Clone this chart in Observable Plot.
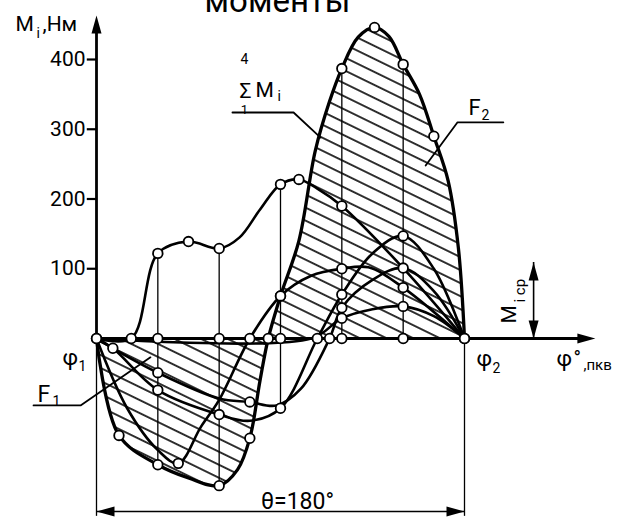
<!DOCTYPE html>
<html><head><meta charset="utf-8">
<script src="https://cdn.jsdelivr.net/npm/d3@7"></script>
<script src="https://cdn.jsdelivr.net/npm/@observablehq/plot@0.6"></script>
<style>body{margin:0;background:#fff}</style>
</head><body><div id="chart"></div>
<script>
const FONT = 'Roboto,"Liberation Sans","DejaVu Sans",sans-serif';

// angle grid (degrees of crank rotation) and torque ticks (N·m)
const phiGrid = [0, 30, 60, 90, 120, 150, 180];
const yTicks = [100, 200, 300, 400];
const yTickLabels = ["100", "200", "300", "400"];

// curves: [phi, M, circle?]
const sumCurve = [[0,0,1],[11,-139,1],[30,-181,1],[45,-200,0],[60,-211,1],[69,-188,0],[75,-143,1],[80,-60,0],[84,0,1],[90,61,1],[99,140,0],[107,269,0],[114,340,0],[120,387,1],[128,432,0],[136,446,1],[143,433,0],[150,393,1],[158,350,0],[165,290,1],[172,226,0],[177,130,0],[180,0,1]];
const curve1 = [[0,0,0],[15,-100,0],[30,-160,0],[40,-179,1],[51,-127,0],[60,-88,0],[75,0,1],[90,61,1],[105,90,0],[120,100,1],[133,102,0],[150,73,1],[180,0,0]];
const curve2 = [[0,0,0],[8,-14,1],[30,-49,1],[60,-86,0],[75,-91,1],[88,-96,0],[100,-72,0],[114,0,1],[120,44,1],[135,84,0],[150,101,1],[165,68,0],[180,0,0]];
const curve3 = [[0,0,0],[8,-14,0],[30,-74,1],[60,-109,1],[75,-118,0],[90,-100,1],[108,0,1],[120,63,1],[135,122,0],[150,147,1],[165,100,0],[180,0,0]];
const curve4 = [[0,0,0],[105,0,0],[120,29,1],[135,42,0],[150,46,1],[165,32,0],[180,0,0]];
const upperCurve = [[0,0,0],[17,0,1],[30,122,1],[45,139,1],[60,129,1],[70,145,0],[80,185,0],[90,221,1],[99,228,1],[108,215,0],[120,190,1],[150,101,0],[180,0,0]];

const meanTorque = 109;      // M_i ср
const theta = 180;           // θ

const toRows = (arr, id) => arr.map(([phi, M, dot]) => ({phi, M, dot, id}));
const curves = [toRows(sumCurve,"sum"), toRows(curve1,"1"), toRows(curve2,"2"), toRows(curve3,"3"), toRows(curve4,"4"), toRows(upperCurve,"u")];
const allRows = curves.flat();
const dotRows = allRows.filter(d => d.dot).concat(phiGrid.map(phi => ({phi, M: 0})));
const gridRows = phiGrid.slice(1, -1).map(g => {
  const v = dotRows.filter(d => Math.abs(d.phi - g) <= 1).map(d => d.M);
  return {phi: g, lo: d3.min(v), hi: d3.max(v)};
});

// annotations (leaders in data units)
const leaderF1 = [[-30.8,-96],[-7.8,-96],[26.4,-27]];
const leaderSum = [[66.5,324],[96.4,324],[109.6,288]];
const leaderF2 = [[199,310],[176.6,310],[161,248]];
const dimM = -248, extM = -255, axisTop = 463, axisRight = 244, meanPhi = 213.8;

const arrowHead = {draw(ctx) { ctx.moveTo(0, 0); ctx.lineTo(-5, 18); ctx.lineTo(5, 18); ctx.closePath(); }};

// text labels: x, y = baseline position in pixels
const labels = [
  {t:"моменты", x:277, y:8, s:33, a:"middle"},
  {t:"M", x:15, y:28, s:21}, {t:"i", x:36, y:36, s:14}, {t:",Нм", x:42, y:28, s:21},
  {t:"4", x:244, y:62, s:14, a:"middle"}, {t:"Σ", x:245, y:95, s:21, a:"middle"},
  {t:"M", x:255, y:94, s:21}, {t:"i", x:277, y:99, s:14}, {t:"1", x:244, y:112, s:13, a:"middle"},
  {t:"F", x:468, y:112, s:22}, {t:"2", x:481, y:118, s:14},
  {t:"F", x:37, y:399, s:23}, {t:"1", x:52, y:404, s:14},
  {t:"φ", x:62, y:362, s:22}, {t:"1", x:78, y:369, s:14},
  {t:"φ", x:476, y:363, s:22}, {t:"2", x:492, y:371, s:14},
  {t:"φ", x:556, y:363, s:22}, {t:"°", x:573, y:362, s:20}, {t:",пкв", x:583, y:368, s:15},
  {t:"θ=180°", x:297, y:506, s:23, a:"middle"},
  {t:"M", x:513, y:323, s:21, r:-90}, {t:"i ср", x:523, y:302, s:15, r:-90}
];

const lineOpts = {x: d => d[0], y: d => d[1], strokeWidth: 1.8, stroke: "#000"};

const textMark = l => {
  const off = 0.12 * l.s;
  const rot = l.r || 0;
  return Plot.text([l.t], {
    frameAnchor: "top-left",
    dx: rot ? l.x + off : l.x,
    dy: rot ? l.y : l.y + off,
    text: d => d, fontSize: l.s, textAnchor: l.a || "start", lineAnchor: "bottom",
    rotate: rot, fill: "#000"
  });
};

const svg = Plot.plot({
  width: 640, height: 520,
  marginTop: 0, marginRight: 0, marginBottom: 0, marginLeft: 0,
  style: {fontFamily: FONT, background: "#fff"},
  x: {domain: [0, 180], range: [96, 464], axis: null},
  y: {domain: [0, 400], range: [338, 59], axis: null},
  marks: [
    Plot.areaY(curves[0], {x: "phi", y1: 0, y2: "M", curve: "catmull-rom", fill: "url(#hatch)"}),
    Plot.ruleX(gridRows, {x: "phi", y1: "lo", y2: "hi", strokeWidth: 1.3}),
    Plot.ruleX([0, theta], {y1: extM, y2: 0, strokeWidth: 1.3}),
    Plot.ruleY([dimM], {x1: 0, x2: theta, strokeWidth: 1.5}),
    Plot.ruleY([0], {x1: 0, x2: axisRight - 8, strokeWidth: 2.8}),
    Plot.ruleX([0], {y1: 0, y2: axisTop - 20, strokeWidth: 2.8}),
    Plot.ruleY(yTicks, {x1: -4.5, x2: 0, strokeWidth: 2.2}),
    Plot.text(yTicks, {x: 0, y: d => d, dx: -11, text: (d, i) => yTickLabels[i], textAnchor: "end", fontSize: 21, fill: "#000"}),
    Plot.ruleX([meanPhi], {y1: 0, y2: meanTorque, strokeWidth: 1.6}),
    ...curves.slice(1).map(c => Plot.line(c, {x: "phi", y: "M", curve: "catmull-rom", strokeWidth: 2.6, stroke: "#000"})),
    Plot.line(curves[0], {x: "phi", y: "M", curve: "catmull-rom", strokeWidth: 3.3, stroke: "#000"}),
    Plot.line(leaderF1, lineOpts),
    Plot.line(leaderSum, lineOpts),
    Plot.line(leaderF2, lineOpts),
    Plot.dot(dotRows, {x: "phi", y: "M", r: 4.8, fill: "#fff", stroke: "#000", strokeWidth: 1.8}),
    Plot.dot([[0, axisTop, 0]], {x: d => d[0], y: d => d[1], symbol: arrowHead, r: 5, fill: "#000", rotate: 0}),
    Plot.dot([[axisRight, 0]], {x: d => d[0], y: d => d[1], symbol: arrowHead, r: 5, fill: "#000", rotate: 90}),
    Plot.dot([[0, dimM]], {x: d => d[0], y: d => d[1], symbol: arrowHead, r: 5, fill: "#000", rotate: -90}),
    Plot.dot([[theta, dimM]], {x: d => d[0], y: d => d[1], symbol: arrowHead, r: 5, fill: "#000", rotate: 90}),
    Plot.dot([[meanPhi, meanTorque]], {x: d => d[0], y: d => d[1], symbol: arrowHead, r: 5, fill: "#000", rotate: 0}),
    Plot.dot([[meanPhi, 0]], {x: d => d[0], y: d => d[1], symbol: arrowHead, r: 5, fill: "#000", rotate: 180}),
    ...labels.map(textMark)
  ]
});

const ns = "http://www.w3.org/2000/svg";
const defs = document.createElementNS(ns, "defs");
const pat = document.createElementNS(ns, "pattern");
pat.setAttribute("id", "hatch");
pat.setAttribute("patternUnits", "userSpaceOnUse");
pat.setAttribute("width", "12");
pat.setAttribute("height", "11.7");
pat.setAttribute("patternTransform", "rotate(26)");
const ln = document.createElementNS(ns, "line");
ln.setAttribute("x1", "0"); ln.setAttribute("y1", "5.85");
ln.setAttribute("x2", "12"); ln.setAttribute("y2", "5.85");
ln.setAttribute("stroke", "#000"); ln.setAttribute("stroke-width", "1.6");
pat.appendChild(ln); defs.appendChild(pat);
svg.insertBefore(defs, svg.firstChild);
document.getElementById("chart").appendChild(svg);
</script></body></html>
